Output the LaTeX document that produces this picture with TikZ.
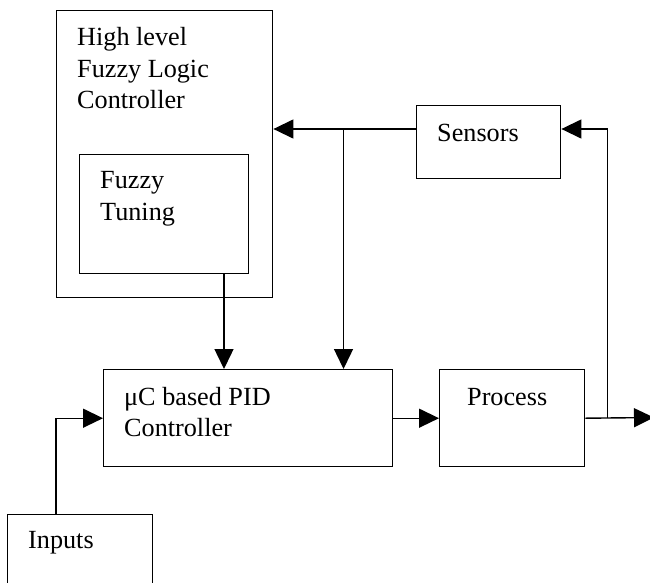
\documentclass[tikz,border=0pt]{standalone}
\usepackage{fontspec}
\setmainfont{Liberation Serif}
\usetikzlibrary{arrows.meta}
\tikzset{
  x=1pt, y=-1pt,
  box/.style={draw, line width=1.4pt, inner sep=0pt, anchor=north west},
  lbl/.style={inner sep=0pt, anchor=base west, font=\fontsize{26.2}{31.5}\selectfont},
  arr/.style={line width=1.4pt, -{Triangle[length=20pt,width=19pt]}},
  wire/.style={line width=1.4pt}
}
\begin{document}
\begin{tikzpicture}
\clip (0,0) rectangle (650,582);

% blocks
\node[box, minimum width=216pt, minimum height=287pt] (flc) at (56,10) {};
\node[box, minimum width=169pt, minimum height=119pt] (ft) at (79,154) {};
\node[box, minimum width=144pt, minimum height=73pt] (sensors) at (416,105) {};
\node[box, minimum width=289pt, minimum height=97pt] (pid) at (103,369) {};
\node[box, minimum width=145pt, minimum height=97pt] (process) at (439,369) {};
\node[box, minimum width=145pt, minimum height=100pt] (inputs) at (7,514) {};

% labels
\node[lbl] (flc1) at (77,45) {High level};
\node[lbl] (flc2) at (77,77) {Fuzzy Logic};
\node[lbl] (flc3) at (77,108) {Controller};
\node[lbl] (ft1) at (100,188) {Fuzzy};
\node[lbl] (ft2) at (100,220) {Tuning};
\node[lbl] (sen) at (437,141.5) {Sensors};
\node[lbl] (pid1) at (124,405) {μC based PID};
\node[lbl] (pid2) at (124,436) {Controller};
\node[lbl] (pro) at (467,405) {Process};
\node[lbl] (inp) at (28,548.5) {Inputs};

% reference points for the wiring
\coordinate (fbrow) at (0,129);
\coordinate (tap) at (343.5,129);
\coordinate (ftout) at (224,0);
\coordinate (inx) at (56,0);
\coordinate (split) at (607.5,417.5);
\coordinate (out) at (654,417.5);

% connectors
\draw[arr] (sensors.west |- fbrow) -- (flc.east |- fbrow);
\draw[arr] (tap) -- (tap |- pid.north);
\draw[arr] (ft.south -| ftout) -- (ftout |- pid.north);
\draw[arr] (pid.east) -- (process.west);
\draw[arr] (process.east) -- (out);
\draw[arr] (split) |- (sensors.east |- fbrow);
\draw[arr] (inputs.north -| inx) |- (pid.west);
\end{tikzpicture}
\end{document}
